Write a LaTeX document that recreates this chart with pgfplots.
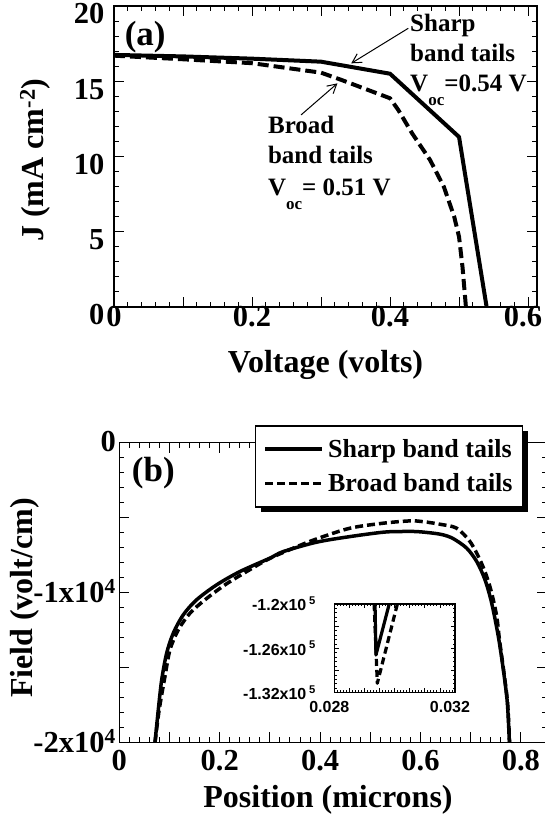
\documentclass[border=0pt]{standalone}
\usepackage{fontspec}
\setmainfont{Liberation Serif}
\newfontfamily\insetfont{Liberation Sans}
\usepackage{pgfplots}
\pgfplotsset{compat=1.18}
\usetikzlibrary{shadows,arrows.meta}

\newcommand\fs[1]{\fontsize{#1}{#1}\selectfont\bfseries}
\newcommand\ifs[1]{\insetfont\fontsize{#1}{#1}\selectfont\bfseries}

% legend samples sit inside the shadowed legend box: keep the shadow off them
\makeatletter
\tikzset{no shadow/.code={\let\tikz@preactions\pgfutil@empty}}
\makeatother

\pgfplotsset{
  panel/.style={
    scale only axis,
    axis line style={line width=1.5pt},
    tick align=inside,
    tick style={line width=1pt, black},
    major tick length=10pt,
    minor tick length=5pt,
    ticklabel style={font=\fs{30.5}},
    label style={font=\fs{32}},
  },
}

\begin{document}
\begin{tikzpicture}

% ---------------- (a) J-V curves ----------------
\begin{axis}[panel,
  at={(114pt,512pt)}, anchor=south west,
  width=423pt, height=301pt,
  xmin=0, xmax=0.613, ymin=0, ymax=20,
  xtick={0,0.1,0.2,0.3,0.4,0.5,0.6},
  xticklabels={0,,0.2,,0.4,,{\hspace*{-10pt}0.6}},
  minor x tick num=4,
  ytick={0,5,10,15,20},
  yticklabels={0,5,10,15,20},
  minor y tick num=4,
  xticklabel style={yshift=4pt},
  yticklabel style={xshift=-6pt, yshift=-8pt},
  xlabel={Voltage (volts)},
  xlabel style={at={(axis description cs:0.5,-0.219)}, anchor=base},
  ylabel={J (mA cm\textsuperscript{-2})},
  ylabel style={at={(axis description cs:-0.1655,0.488)}, anchor=base},
]
\addplot[black, line width=4pt, line join=round] coordinates {
  (0,16.75) (0.1,16.65) (0.2,16.5) (0.3,16.3) (0.4,15.5) (0.5,11.3) (0.54,0)
};
\addplot[black, line width=4pt, line join=round, dash pattern=on 11pt off 5pt] coordinates {
  (0,16.7) (0.1,16.46) (0.2,16.2) (0.3,15.57) (0.33,15.08) (0.4,13.87)
  (0.412,13.09) (0.432,11.54) (0.458,9.77) (0.478,7.99) (0.493,6.0)
  (0.5,4.67) (0.505,2.68) (0.51,0)
};

\node[anchor=west, font=\fs{35}, inner sep=0pt] at (axis cs:0.0154,17.94) {(a)};

\node[anchor=base west, font=\fs{25}, inner sep=0pt] at (axis cs:0.429,18.29) {Sharp};
\node[anchor=base west, font=\fs{25}, inner sep=0pt] at (axis cs:0.429,16.30) {band tails};
\node[anchor=base west, font=\fs{25}, inner sep=0pt] at (axis cs:0.429,14.31)
  {V\raisebox{-14pt}{\fs{17}oc}=0.54 V};

\node[anchor=base west, font=\fs{25}, inner sep=0pt] at (axis cs:0.223,11.54) {Broad};
\node[anchor=base west, font=\fs{25}, inner sep=0pt] at (axis cs:0.223,9.55) {band tails};
\node[anchor=base west, font=\fs{25}, inner sep=0pt] at (axis cs:0.223,7.44)
  {V\raisebox{-14pt}{\fs{17}oc}= 0.51 V};

\draw[line width=1pt, -{Straight Barb[length=9pt,width=10pt,line width=1pt]}]
  (axis cs:0.4265,18.52) -- (axis cs:0.3438,16.19);
\draw[line width=1pt, -{Straight Barb[length=9pt,width=10pt,line width=1pt]}]
  (axis cs:0.271,12.76) -- (axis cs:0.3238,14.86);
\end{axis}

% ---------------- (b) field profiles ----------------
\begin{axis}[panel,
  at={(119.3pt,76.7pt)}, anchor=south west,
  width=427.7pt, height=299.6pt,
  xmin=0, xmax=0.852, ymin=-20000, ymax=0,
  scaled x ticks=false, scaled y ticks=false,
  xtick={0,0.1,0.2,0.3,0.4,0.5,0.6,0.7,0.8},
  xticklabels={0,,0.2,,0.4,,0.6,,0.8},
  minor x tick num=4,
  ytick={-20000,-15000,-10000,-5000,0},
  yticklabels={-2x10\textsuperscript{4},,-1x10\textsuperscript{4},,0},
  minor y tick num=4,
  xticklabel style={yshift=-4pt},
  yticklabel style={yshift=1pt},
  xlabel={Position (microns)},
  xlabel style={at={(axis description cs:0.488,-0.219)}, anchor=base},
  ylabel={Field (volt/cm)},
  ylabel style={at={(axis description cs:-0.2018,0.4816)}, anchor=base},
  legend cell align=left,
  legend image code/.code={\draw[#1, no shadow] (0pt,0pt) -- (57pt,0pt);},
  legend style={at={(axis description cs:0.317,1.059)}, anchor=north west,
    draw=black, line width=1.5pt, fill=white, font=\fs{26},
    drop shadow={shadow xshift=5pt, shadow yshift=-5pt, fill=black, opacity=1},
    inner xsep=8pt, inner ysep=6pt,
    nodes={inner xsep=2pt, inner ysep=7.5pt},
    column sep=2pt,
    row sep=0pt},
]
\addplot[black, line width=3.5pt, smooth] coordinates {
  (0.0711,-20000) (0.0777,-17820) (0.0845,-15820) (0.0944,-14040)
  (0.1076,-12707) (0.1275,-11487) (0.154,-10487) (0.194,-9487)
  (0.2404,-8600) (0.300,-7707) (0.3267,-7267) (0.3932,-6640)
  (0.4596,-6267) (0.526,-5973) (0.56,-5930) (0.5924,-5933)
  (0.6255,-6040) (0.645,-6150) (0.665,-6400) (0.692,-7040)
  (0.712,-7933) (0.7285,-9153) (0.7418,-10707) (0.755,-12933)
  (0.765,-15153) (0.773,-17373) (0.777,-20000)
};
\addlegendentry{Sharp band tails}
\addplot[black, line width=3.5pt, smooth, dash pattern=on 8pt off 4pt] coordinates {
  (0.0712,-20000) (0.0795,-17820) (0.091,-15600) (0.101,-13820)
  (0.1176,-12487) (0.141,-11373) (0.1707,-10487) (0.2106,-9487)
  (0.2538,-8600) (0.297,-7773) (0.3466,-7040) (0.3932,-6420)
  (0.4596,-5707) (0.526,-5373) (0.579,-5220) (0.605,-5270)
  (0.64,-5450) (0.672,-5707) (0.6986,-6600) (0.7185,-7820)
  (0.7319,-8933) (0.7418,-10040) (0.7518,-11600) (0.7575,-13200)
  (0.766,-15300) (0.7735,-17400) (0.7775,-20000)
};
\addlegendentry{Broad band tails}

\node[anchor=west, font=\fs{35}, inner sep=0pt] at (axis cs:0.0247,-2020) {(b)};
\end{axis}

% ---------------- inset: close-up near the front contact ----------------
\begin{axis}[
  at={(334.3pt,126.3pt)}, anchor=south west,
  scale only axis, width=120.7pt, height=88.7pt,
  xmin=0.028, xmax=0.032, ymin=-132000, ymax=-120000,
  scaled x ticks=false, scaled y ticks=false,
  axis line style={line width=1.5pt},
  tick align=inside,
  tick style={line width=0.8pt, black},
  major tick length=4.5pt, minor tick length=2.5pt,
  xtick={0.028,0.0285,0.029,0.0295,0.03,0.0305,0.031,0.0315,0.032},
  xticklabels={0.028,,,,,,,,0.032},
  minor x tick num=4,
  ytick={-132000,-129000,-126000,-123000,-120000},
  yticklabels={-1.32x10\,\textsuperscript{5},,-1.26x10\,\textsuperscript{5},,-1.2x10\,\textsuperscript{5}},
  minor y tick num=4,
  ticklabel style={font=\ifs{16}},
  xticklabel style={yshift=-5.5pt, xshift=-5pt},
  yticklabel style={xshift=-15pt},
]
\addplot[black, line width=3.2pt, line join=round] coordinates {
  (0.02935,-120000) (0.02938,-126900) (0.02982,-120000)
};
\addplot[black, line width=3.2pt, line join=round, dash pattern=on 7pt off 4pt] coordinates {
  (0.02932,-120000) (0.029425,-130730) (0.03009,-120000)
};
\end{axis}

% page frame: the figure area, with the far right spine of (b) just past the edge
\pgfresetboundingbox
\useasboundingbox (0pt,0pt) rectangle (544pt,819pt);
\end{tikzpicture}
\end{document}
